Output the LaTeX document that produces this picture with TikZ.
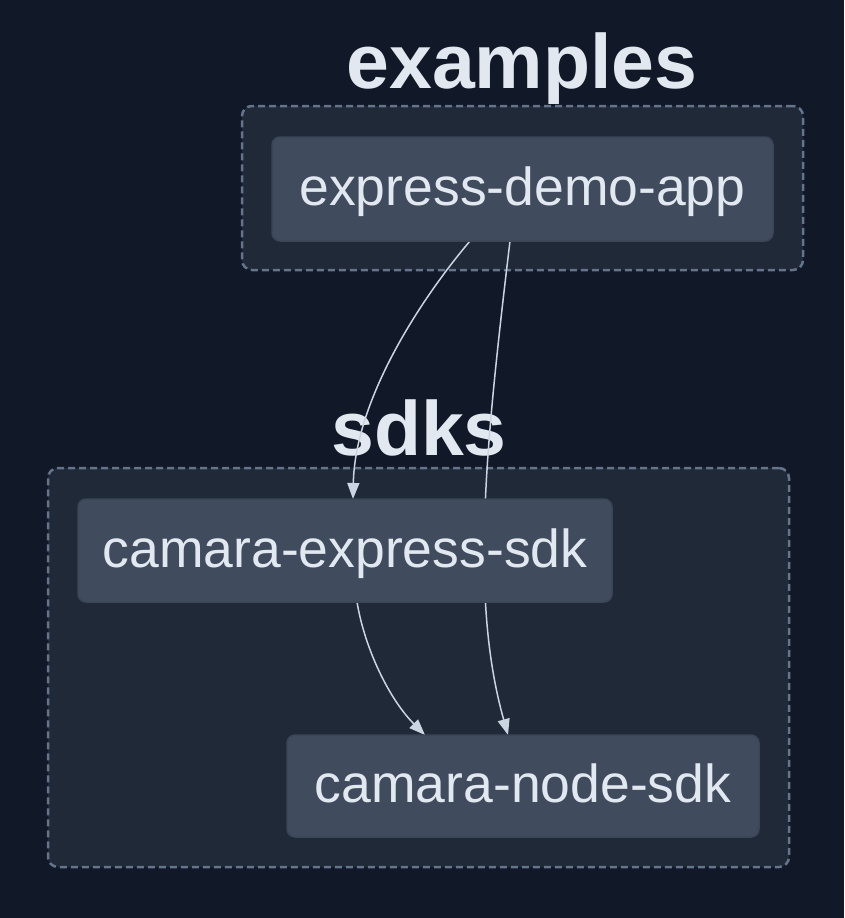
\documentclass[tikz,border=0pt]{standalone}
\usepackage{fontspec}
\setmainfont{Liberation Sans}
\usetikzlibrary{arrows.meta}
\definecolor{bgc}{HTML}{111827}
\definecolor{clfill}{HTML}{1F2937}
\definecolor{clline}{HTML}{64748B}
\definecolor{ndfill}{HTML}{404B5E}
\definecolor{ndline}{HTML}{3A4556}
\definecolor{txt}{HTML}{E2E8F0}
\definecolor{edgec}{HTML}{CBD5E1}
\pgfdeclarelayer{bg}
\pgfdeclarelayer{edgelayer}
\pgfsetlayers{bg,edgelayer,main}
\tikzset{
  cluster/.style={draw=clline, fill=clfill, line width=2.5pt, dash pattern=on 7pt off 4pt,
    rounded corners=10pt, inner sep=0pt, outer sep=0pt},
  cltitle/.style={text=txt, anchor=base, inner sep=0pt, font=\bfseries\fontsize{77}{80}\selectfont},
  pkg/.style={draw=ndline, fill=ndfill, line width=1.5pt, rounded corners=8pt, outer sep=0pt,
    text=txt, font=\fontsize{53.5}{60}\selectfont, text height=38.5pt, text depth=5.5pt},
  dep/.style={draw=edgec, line width=1.5pt, -{Triangle[length=16pt,width=12pt]}},
}
\begin{document}
\begin{tikzpicture}[x=1pt,y=-1pt]
\useasboundingbox (0,0) rectangle (844,918);
\begin{pgfonlayer}{bg}
\fill[bgc] (0,0) rectangle (844,918);
\node[cluster, minimum width=561pt, minimum height=164pt] (clex) at (522.5,188) {};
\node[cluster, minimum width=741pt, minimum height=399pt] (clsdk) at (418.5,667.5) {};
\node[cltitle] (tex) at (522,88) {examples};
\node[cltitle] (tsdk) at (419,455) {sdks};
\end{pgfonlayer}
\node[pkg, minimum width=501pt, minimum height=104pt] (demo) at (522.5,189) {express-demo-app};
\node[pkg, minimum width=534pt, minimum height=103pt] (ces) at (345,550.5) {camara-express-sdk};
\node[pkg, minimum width=472pt, minimum height=102pt] (cns) at (523,786) {camara-node-sdk};
\begin{pgfonlayer}{edgelayer}
\draw[dep] ([xshift=-52.5pt]demo.south) .. controls (420,300) and (355,400) .. ([xshift=8pt]ces.north);
\draw[dep] ([xshift=-12.5pt]demo.south) .. controls (485,450) and (470,600) .. ([xshift=-15pt]cns.north);
\draw[dep] ([xshift=12pt]ces.south) .. controls (365,650) and (390,700) .. ([xshift=-98pt]cns.north);
\end{pgfonlayer}
\end{tikzpicture}
\end{document}
